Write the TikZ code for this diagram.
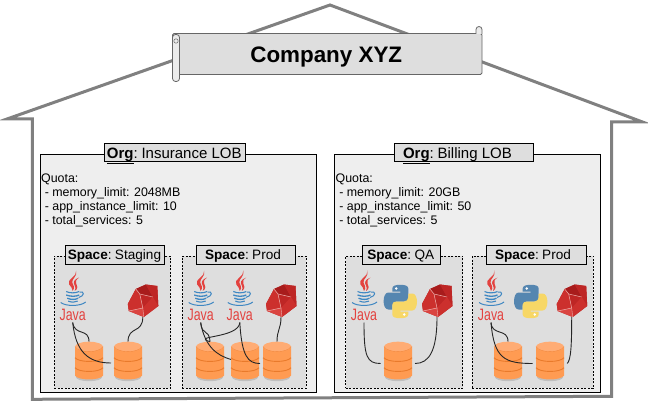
\documentclass[tikz,border=0pt]{standalone}
\usepackage{fontspec}
\setmainfont{Liberation Sans}
\definecolor{housegray}{HTML}{808080}
\definecolor{orgfill}{HTML}{EEEEEE}
\definecolor{spacefill}{HTML}{DEDEDE}
\definecolor{labelfill}{HTML}{DEDEDE}
\definecolor{dbbody}{HTML}{FF9B52}
\definecolor{dbtop}{HTML}{FFAC74}
\definecolor{dbline}{HTML}{E97A2B}
\definecolor{javared}{HTML}{E3423F}
\definecolor{javablue}{HTML}{3F87C2}
\definecolor{pyblue}{HTML}{5586B0}
\definecolor{pyyellow}{HTML}{F7D766}
\definecolor{rubybase}{HTML}{BE2625}
\definecolor{rubylight}{HTML}{DA4440}
\definecolor{rubymid}{HTML}{CC302D}
\definecolor{rubydark}{HTML}{A81C1C}
\definecolor{rubyline}{HTML}{F0B4B0}
\tikzset{
  house/.style={draw=housegray,line width=3pt,line join=miter},
  bannerbox/.style={draw=black!60,fill=labelfill,line width=.8pt,rounded corners=1.5pt,inner sep=0pt,minimum width=309.5pt,minimum height=41pt,text height=20pt,text depth=2.6pt,font=\fontsize{22.4}{26}\bfseries\selectfont},
  bannerroll/.style={draw=black!60,fill=black!8,line width=.8pt,rounded corners=3pt},
  orgbox/.style={draw=black,fill=orgfill,line width=.9pt,inner sep=0pt},
  spacebox/.style={draw=black,fill=spacefill,dash pattern=on 2pt off 1.5pt,line width=.8pt,inner sep=0pt},
  orglabel/.style={draw=black,fill=labelfill,line width=.9pt,inner sep=0pt,minimum height=18.4pt,text height=13.6pt,text depth=2pt,font=\fontsize{15}{18}\selectfont},
  spacelabel/.style={draw=black,fill=labelfill,line width=.9pt,inner sep=0pt,minimum height=18.4pt,text height=12pt,text depth=2pt,font=\fontsize{13.6}{16}\selectfont},
  quota/.style={inner sep=0pt,anchor=north west,align=left,font=\fontsize{12.4}{14}\selectfont},
  iconbox/.style={inner sep=0pt,outer sep=0pt},
  link/.style={draw=black!85,line width=.9pt},
  dbsep/.style={draw=dbline,line width=.9pt},
  javaicon/.pic={
    \fill[javared] (3.5,-26) .. controls (5,-20) and (-7,-17) .. (-3.5,-12) .. controls (-2,-10) and (0,-8) .. (0,-5.5) .. controls (3,-9) and (0,-12) .. (-.5,-14) .. controls (-1,-18) and (5,-20) .. (3.5,-26) -- cycle;
    \fill[javared] (6.5,-19) .. controls (1,-17) and (0,-14) .. (2,-11) .. controls (3,-9) and (3,-8) .. (2,-5.5) .. controls (6,-8) and (4.5,-11) .. (3.5,-13) .. controls (2.5,-15) and (3.5,-17) .. (6.5,-19) -- cycle;
    \draw[javablue,line width=1.1pt] (-6.5,-5) .. controls (-3,-3.2) and (3,-3.2) .. (6.5,-5);
    \draw[javablue,line width=1.3pt] (-6.5,-1.5) .. controls (-2,.2) and (3,.2) .. (6.5,-1.5);
    \draw[javablue,line width=1.3pt] (-5.5,1.7) .. controls (-2,3.3) and (3,3.3) .. (5.5,1.7);
    \draw[javablue,line width=1.1pt] (-4.5,4.6) .. controls (-1,6) and (2,6) .. (5,4.6);
    \draw[javablue,line width=1pt] (7,-4.5) .. controls (12,-5.5) and (12,-.5) .. (6,1);
    \draw[javablue,line width=1pt] (-12,6) .. controls (-7,10) and (8,10) .. (13,5.5);
    \node[inner sep=0pt,text=javared,font=\fontsize{16.5}{18}\selectfont,xscale=.75,transform shape] (-t) at (0,18.5) {Java};
  },
  rubyicon/.pic={
    \fill[rubybase] (-15,3) -- (-7,-12) -- (3,-16.5) -- (14.5,-15) -- (15.5,5) -- (1,16) -- (-14,10) -- cycle;
    \fill[rubymid] (-15,3) -- (-7,-12) -- (-3,-7) -- (0,7) -- (-14,10) -- cycle;
    \fill[rubybase] (-3,-7) -- (10,-4) -- (0,7) -- cycle;
    \fill[rubydark] (-7,-12) -- (3,-16.5) -- (10,-4) -- (-3,-7) -- cycle;
    \fill[rubybase] (3,-16.5) -- (14.5,-15) -- (15.5,5) -- (10,-4) -- cycle;
    \fill[rubylight] (-14,10) -- (0,7) -- (1,16) -- cycle;
    \fill[rubymid] (0,7) -- (10,-4) -- (15.5,5) -- (1,16) -- cycle;
    \draw[rubyline,line width=.5pt] (-7,-12) -- (-3,-7) -- (10,-4);
    \draw[rubyline,line width=.5pt] (-3,-7) -- (0,7) -- (-14,10);
    \draw[rubyline,line width=.4pt] (0,7) -- (1,16);
  },
  pythonsnake/.pic={
    \path[pic actions] (-8,-10) -- (-8,-13) .. controls (-8,-16) and (-4,-16.7) .. (0,-16.7) .. controls (4,-16.7) and (8,-16) .. (8,-13) -- (8,-3) .. controls (8,-1) and (6,0) .. (4,0) -- (-4,0) .. controls (-6,0) and (-8,2) .. (-8,4) -- (-8,8) -- (-12,8) .. controls (-15,8) and (-16.7,4) .. (-16.7,0) .. controls (-16.7,-5) and (-15,-9) .. (-12,-9) -- (0,-9) -- (0,-10) -- cycle;
    \fill[white] (-4,-13) circle (1.4pt);
  },
  pythonicon/.pic={
    \pic[fill=pyblue] {pythonsnake};
    \pic[fill=pyyellow,rotate=180] {pythonsnake};
  },
  dbicon/.pic={
    \fill[black!25] (0,35.5) ellipse [x radius=13,y radius=4];
    \fill[dbbody] (-14,5) -- (-14,34) .. controls (-10,39) and (10,39) .. (14,34) -- (14,5) -- cycle;
    \draw[dbsep] (-14,16) .. controls (-10,21) and (10,21) .. (14,16);
    \draw[dbsep] (-14,26) .. controls (-10,31) and (10,31) .. (14,26);
    \fill[dbtop] (0,5) ellipse [x radius=14,y radius=5];
    \draw[dbsep,line width=.4pt,draw=dbline!60!dbbody] (-14,5) .. controls (-10,11.6) and (10,11.6) .. (14,5);
  }
}
\newcommand{\lblbox}[4]{\makebox[#1][l]{\hspace{#2}\underline{\textbf{#3}}:\hspace{.25em}#4}}
\newcommand{\JavaAt}[2]{\node[iconbox,minimum width=25pt,minimum height=52pt] (#1) at (#2,296.5) {}; \pic (#1-icon) at (#1.center) {javaicon};}
\newcommand{\RubyAt}[2]{\node[iconbox,minimum width=29pt,minimum height=32pt] (#1) at (#2,301) {}; \pic at (#1.center) {rubyicon};}
\newcommand{\PythonAt}[2]{\node[iconbox,minimum width=33pt,minimum height=33pt] (#1) at (#2,301.5) {}; \pic at (#1.center) {pythonicon};}
\newcommand{\DbAt}[2]{\node[iconbox,minimum width=28pt,minimum height=39.6pt] (#1) at (#2,361.5) {}; \pic at (#1.north) {dbicon};}
\newcommand{\ind}{\hspace*{3.6pt}}
\begin{document}
\begin{tikzpicture}[x=1pt,y=-1pt]
\useasboundingbox (0,0) rectangle (648,406);
% house
\draw[house] (32.4,399.3) -- (32.4,119) -- (7,119) -- (330,5) -- (642.5,122) -- (611.5,122) -- (611.5,396.3) -- cycle;
% banner
\node[bannerbox] (title) at (327.25,54) {\hspace*{-2pt}Company XYZ};
\draw[bannerroll] (476,34) -- (476,26.5) -- (482,26.5) -- (482,34);
\draw[bannerroll] (172.5,34.5) rectangle (179.5,81.5);
\draw[black!60,line width=.5pt] (176,41) circle (2.2pt);
% orgs
\node[orgbox,minimum width=276pt,minimum height=238pt] (org1) at (178.3,273.2) {};
\node[orgbox,minimum width=266.5pt,minimum height=238pt] (org2) at (467.5,273.2) {};
\node[orglabel,minimum width=140.7pt] (org1label) at (174.6,152.5) {\lblbox{140.7pt}{2.7pt}{Org}{Insurance LOB}};
\node[orglabel,minimum width=139.3pt] (org2label) at (463.7,152.5) {\lblbox{139.3pt}{9pt}{Org}{Billing LOB}};
\node[quota] (quota1) at (41,173.3) {Quota:\\\ind- memory\_limit: 2048MB\\\ind- app\_instance\_limit: 10\\\ind- total\_services: 5};
\node[quota] (quota2) at (335.5,173.3) {Quota:\\\ind- memory\_limit: 20GB\\\ind- app\_instance\_limit: 50\\\ind- total\_services: 5};
% spaces
\node[spacebox,minimum width=116.4pt,minimum height=132.3pt] (space1) at (112.5,322.2) {};
\node[spacebox,minimum width=123.7pt,minimum height=132.3pt] (space2) at (244.2,322.2) {};
\node[spacebox,minimum width=117pt,minimum height=132.3pt] (space3) at (404.2,322.2) {};
\node[spacebox,minimum width=121pt,minimum height=132.3pt] (space4) at (532.8,322.2) {};
\node[spacelabel,minimum width=99.3pt] (space1label) at (114.7,255) {\lblbox{99.3pt}{2.7pt}{Space}{Staging}};
\node[spacelabel,minimum width=99pt] (space2label) at (246.2,255) {\lblbox{99pt}{8.3pt}{Space}{Prod}};
\node[spacelabel,minimum width=78.4pt] (space3label) at (401.5,255) {\lblbox{78.4pt}{5pt}{Space}{QA}};
\node[spacelabel,minimum width=100pt] (space4label) at (536.7,255) {\lblbox{100pt}{8.3pt}{Space}{Prod}};
% space 1
\JavaAt{ja}{72.7} \RubyAt{ra}{142.8} \DbAt{da}{89} \DbAt{db}{128}
\draw[link] (ja.south) .. controls +(2,14) and +(0,-14) .. (da.north);
\draw[link] (ja.south) .. controls +(3,30) and +(-22,0) .. ([shift={(-3,1.5)}]db.west);
\draw[link] (ra.south) .. controls +(0,17) and +(0,-16) .. (db.north);
% space 2
\JavaAt{jb}{200.7} \JavaAt{jc}{239.8} \RubyAt{rb}{281} \DbAt{dc}{210} \DbAt{dd}{245} \DbAt{de}{277}
\draw[link] (jb.south) .. controls +(1,14) and +(-1,-14) .. (dc.north);
\draw[link] (jb.south) .. controls +(4,24) and +(-14,-4) .. ([shift={(0,-2)}]dd.west);
\draw[link] (jc.south) .. controls +(-1,16) and +(-20,-6) .. (dc.north);
\draw[link] (jc.south) .. controls +(2,34) and +(-12,0) .. ([shift={(-3,2)}]de.west);
\draw[link] (rb.south) .. controls +(0,12) and +(0,-12) .. (de.north);
% space 3
\JavaAt{jd}{364} \PythonAt{pa}{400.3} \RubyAt{rc}{437} \DbAt{df}{398}
\draw[link] (jd.south) .. controls +(0,34) and +(-14,0) .. ([shift={(-3.3,2)}]df.west);
\draw[link] (rc.south) .. controls +(0,34) and +(14,0) .. ([shift={(3,2)}]df.east);
% space 4
\JavaAt{je}{491} \PythonAt{pb}{530.7} \RubyAt{rd}{571.7} \DbAt{dg}{508} \DbAt{dh}{550}
\draw[link] (je.south) .. controls +(1,14) and +(0,-14) .. (dg.north);
\draw[link] (je.south) .. controls +(3,36) and +(-28,0) .. ([shift={(-3.3,2)}]dh.west);
\draw[link] (rd.south) .. controls +(0,30) and +(3.5,-4) .. ([shift={(3.3,2)}]dh.east);
\end{tikzpicture}
\end{document}
